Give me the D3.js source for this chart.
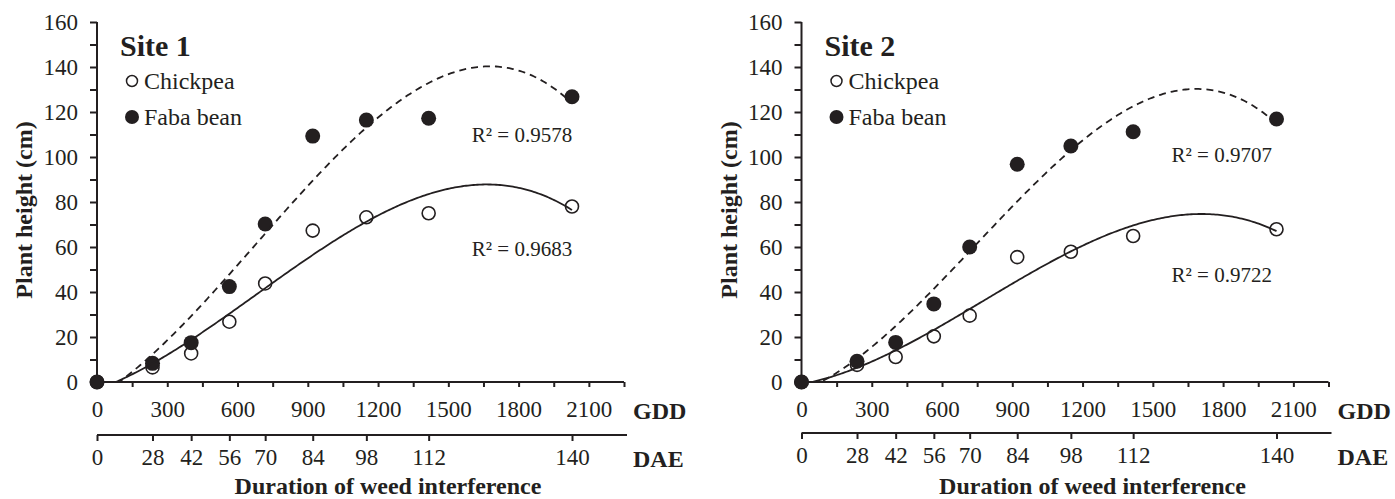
<!DOCTYPE html>
<html>
<head>
<meta charset="utf-8">
<script src="https://cdnjs.cloudflare.com/ajax/libs/d3/7.8.5/d3.min.js"></script>
<style>
body { margin: 0; background: #fff; }
text { font-family: "Liberation Serif", "Times New Roman", serif; fill: #231f20; }
.axis path, .axis line { stroke: #231f20; stroke-width: 2; }
.axis text { font-size: 23px; }
.bold { font-weight: bold; }
</style>
</head>
<body>
<svg id="chart" width="1395" height="499"></svg>
<script>
// sampling dates: days after emergence and the matching growing degree days
const DAE = [0, 28, 42, 56, 70, 84, 98, 112, 140];
const GDD = [0, 237, 402, 565, 718, 921, 1150, 1416, 2028];
const GDD_TICKS = [0, 150, 300, 450, 600, 750, 900, 1050, 1200, 1350, 1500, 1650, 1800, 1950, 2100, 2250];
const Y_TICKS = [0, 10, 20, 30, 40, 50, 60, 70, 80, 90, 100, 110, 120, 130, 140, 150, 160];

// plant height (cm)
const site1Chickpea = [0, 6.5, 12.7, 26.8, 43.8, 67.3, 73.2, 75.0, 78.0];
const site1Faba = [0, 8.3, 17.5, 42.4, 70.2, 109.3, 116.4, 117.2, 126.8];
const site2Chickpea = [0, 7.6, 11.1, 20.3, 29.5, 55.5, 57.9, 64.9, 67.9];
const site2Faba = [0, 9.2, 17.6, 34.7, 60.0, 96.8, 104.9, 111.2, 116.9];

const r2Chickpea = ["0.9683", "0.9722"];
const r2Faba = ["0.9578", "0.9707"];

var svg = d3.select("#chart");

var top_y = 22, bottom_y = 382, plot_w = 527;

var panels = [
  {left: 97, daeY: 435, site: "Site 1", chick: site1Chickpea, faba: site1Faba,
   r2c: r2Chickpea[0], r2f: r2Faba[0], labC: [1600, 56], labF: [1600, 106.7]},
  {left: 801.5, daeY: 433, site: "Site 2", chick: site2Chickpea, faba: site2Faba,
   r2c: r2Chickpea[1], r2f: r2Faba[1], labC: [1580, 44.4], labF: [1580, 97.8]}
];

// least squares polynomial of order 3 (spreadsheet style trendline)
function cubicFit(xs, ys) {
  var n = 4, A = [], b = [];
  for (var i = 0; i < n; i++) {
    A[i] = [];
    for (var j = 0; j < n; j++) {
      A[i][j] = d3.sum(xs, function(x) { return Math.pow(x / 1000, i + j); });
    }
    b[i] = d3.sum(xs, function(x, k) { return ys[k] * Math.pow(x / 1000, i); });
  }
  for (var c = 0; c < n; c++) {
    var p = c;
    for (var r = c + 1; r < n; r++) if (Math.abs(A[r][c]) > Math.abs(A[p][c])) p = r;
    var t = A[c]; A[c] = A[p]; A[p] = t;
    var tb = b[c]; b[c] = b[p]; b[p] = tb;
    for (var r = c + 1; r < n; r++) {
      var f = A[r][c] / A[c][c];
      for (var k = c; k < n; k++) A[r][k] -= f * A[c][k];
      b[r] -= f * b[c];
    }
  }
  var coef = [0, 0, 0, 0];
  for (var c = n - 1; c >= 0; c--) {
    var s = b[c];
    for (var k = c + 1; k < n; k++) s -= A[c][k] * coef[k];
    coef[c] = s / A[c][c];
  }
  return function(x) {
    var u = x / 1000;
    return coef[0] + coef[1] * u + coef[2] * u * u + coef[3] * u * u * u;
  };
}

panels.forEach(function(p, pi) {
  var x = d3.scaleLinear().domain([0, 2250]).range([p.left, p.left + plot_w]);
  var y = d3.scaleLinear().domain([0, 160]).range([bottom_y, top_y]);

  // y axis
  svg.append("g")
    .attr("class", "axis")
    .attr("transform", "translate(" + p.left + ",0)")
    .call(d3.axisLeft(y).tickValues(Y_TICKS).tickSize(7).tickPadding(12)
      .tickFormat(function(d) { return d % 20 == 0 ? d : ""; }))
    .call(function(g) { g.select(".domain").attr("d", "M0," + top_y + "V" + bottom_y); });

  // GDD axis
  svg.append("g")
    .attr("class", "axis")
    .attr("transform", "translate(0," + bottom_y + ")")
    .call(d3.axisBottom(x).tickValues(GDD_TICKS).tickSize(5).tickPadding(14)
      .tickFormat(function(d) { return d % 300 == 0 ? d : ""; }))
    .call(function(g) { g.select(".domain").attr("d", "M" + p.left + ",0H" + (p.left + plot_w)); });

  // DAE axis
  svg.append("g")
    .attr("class", "axis")
    .attr("transform", "translate(0," + p.daeY + ")")
    .call(d3.axisBottom(x).tickValues(GDD).tickSize(6).tickPadding(8)
      .tickFormat(function(d, i) { return DAE[i]; }))
    .call(function(g) { g.select(".domain").attr("d", "M" + p.left + ",0H" + (p.left + plot_w + 3)); });

  svg.append("text").attr("class", "bold")
    .attr("x", p.left + plot_w + 9).attr("y", bottom_y + 37)
    .style("font-size", "24px").text("GDD");
  svg.append("text").attr("class", "bold")
    .attr("x", p.left + plot_w + 9).attr("y", p.daeY + 32)
    .style("font-size", "24px").text("DAE");

  svg.append("text").attr("class", "bold")
    .attr("x", p.left + 291).attr("y", 494)
    .attr("text-anchor", "middle")
    .style("font-size", "24px").text("Duration of weed interference");

  svg.append("text").attr("class", "bold")
    .attr("transform", "translate(" + (p.left - 65) + "," + 210 + ") rotate(-90)")
    .attr("text-anchor", "middle")
    .style("font-size", "24px").text("Plant height (cm)");

  // legend
  svg.append("text").attr("class", "bold")
    .attr("x", p.left + 23).attr("y", 56)
    .style("font-size", "30px").text(p.site);
  svg.append("circle").attr("cx", p.left + 35).attr("cy", 81).attr("r", 5.5)
    .attr("fill", "#fff").attr("stroke", "#231f20").attr("stroke-width", 1.5);
  svg.append("text").attr("x", p.left + 47).attr("y", 89)
    .style("font-size", "24px").text("Chickpea");
  svg.append("circle").attr("cx", p.left + 35).attr("cy", 117).attr("r", 7)
    .attr("fill", "#231f20");
  svg.append("text").attr("x", p.left + 47).attr("y", 125)
    .style("font-size", "24px").text("Faba bean");

  // markers
  svg.append("g").selectAll("circle")
    .data(p.chick).enter().append("circle")
    .attr("cx", function(d, i) { return x(GDD[i]); })
    .attr("cy", function(d) { return y(d); })
    .attr("r", 6.5)
    .attr("fill", "#fff").attr("stroke", "#231f20").attr("stroke-width", 1.6);

  svg.append("g").selectAll("circle")
    .data(p.faba).enter().append("circle")
    .attr("cx", function(d, i) { return x(GDD[i]); })
    .attr("cy", function(d) { return y(d); })
    .attr("r", 7.5)
    .attr("fill", "#231f20");

  // trendlines
  svg.append("clipPath").attr("id", "clip" + pi)
    .append("rect").attr("x", p.left).attr("y", top_y)
    .attr("width", plot_w).attr("height", bottom_y - top_y);

  var xs = d3.range(0, 2029, 8);
  xs.push(2028);
  [[p.chick, null], [p.faba, "7,5"]].forEach(function(s) {
    var fit = cubicFit(GDD, s[0]);
    var line = d3.line()
      .x(function(d) { return x(d); })
      .y(function(d) { return y(fit(d)); });
    svg.append("path")
      .datum(xs)
      .attr("clip-path", "url(#clip" + pi + ")")
      .attr("d", line)
      .attr("fill", "none")
      .attr("stroke", "#231f20")
      .attr("stroke-width", 1.8)
      .attr("stroke-dasharray", s[1]);
  });

  // R squared labels
  svg.append("text").attr("x", x(p.labF[0])).attr("y", y(p.labF[1]))
    .style("font-size", "21px").text("R\u00b2 = " + p.r2f);
  svg.append("text").attr("x", x(p.labC[0])).attr("y", y(p.labC[1]))
    .style("font-size", "21px").text("R\u00b2 = " + p.r2c);
});
</script>
</body>
</html>
